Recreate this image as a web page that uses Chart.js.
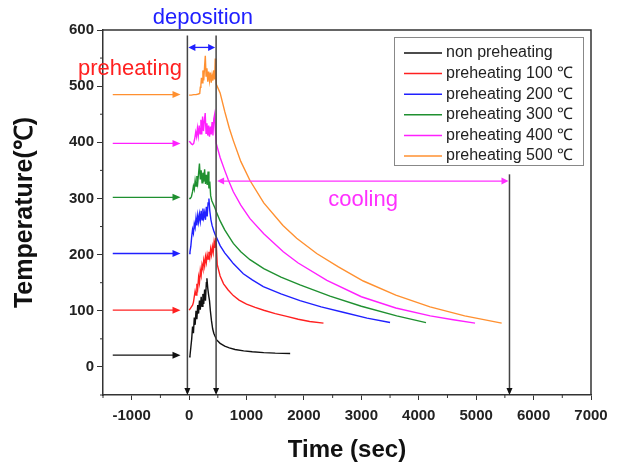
<!DOCTYPE html>
<html>
<head>
<meta charset="utf-8">
<script src="https://cdn.jsdelivr.net/npm/chart.js@4.4.1/dist/chart.umd.min.js"></script>
<style>
html,body{margin:0;padding:0;background:#fff;}
#wrap{width:619px;height:465px;position:relative;}
</style>
</head>
<body>
<div id="wrap"><canvas id="c" width="619" height="465"></canvas></div>
<script>
// ---------- data ----------
const seriesLabels = ['non preheating','preheating 100 \u2103','preheating 200 \u2103','preheating 300 \u2103','preheating 400 \u2103','preheating 500 \u2103'];

const timeNon = [0,15,30,45,60,75,90,105,120,135,150,165,180,195,210,225,240,255,270,285,300,310,325,340,355,370,390,410,430,450,480,540,620,700,800,950,1100,1300,1500,1760];
const tempNon = [18,20,35,50,72,60,88,75,100,85,110,95,118,102,125,108,130,112,138,118,150,158,140,128,118,100,82,68,60,55,48,42,37,34,31,28.5,27,25.5,24.5,24];

const time100 = [0,20,40,60,75,90,105,120,135,150,165,180,195,210,225,240,255,270,285,300,315,330,345,360,375,390,405,420,435,450,462,475,490,540,600,680,770,870,1000,1150,1300,1500,1700,1900,2100,2340];
const temp100 = [101,104,107,110,115,125,135,128,148,140,160,150,172,163,182,175,190,180,196,186,200,192,205,195,210,200,214,204,222,212,230,215,182,162,148,137,127,119,112,106,101,95,90,85,81,78];

const time200 = [0,15,30,45,60,75,90,105,120,135,150,165,180,195,210,225,240,255,270,285,300,315,330,345,360,380,400,430,460,480,540,620,700,770,944,1100,1292,1600,1931,2300,2700,3100,3500];
const temp200 = [202,205,215,232,245,238,255,248,265,252,270,258,272,260,278,262,282,266,275,262,285,268,292,300,278,262,252,242,234,230,216,203,193,184,166,155,143,130,118,107,97,87,79];

const time300 = [0,20,40,60,75,90,105,120,135,150,165,180,195,210,225,240,255,270,285,300,315,330,345,360,375,395,420,450,475,540,620,700,770,900,1060,1300,1600,1931,2454,3000,3616,4126];
const temp300 = [300,300,303,312,322,316,332,322,340,328,345,362,334,350,328,346,330,352,326,342,324,348,318,330,305,296,290,283,276,260,244,231,220,205,191,175,160,146,126,108,91,79];

const time400 = [0,20,40,60,80,100,115,130,145,160,175,190,205,220,235,250,265,280,295,310,325,340,355,370,385,400,415,430,445,458,472,540,620,683,770,900,1060,1300,1640,1900,2400,3000,3600,4200,4600,4980];
const temp400 = [402,400,397,396,398,408,418,410,425,412,430,415,440,414,446,420,438,452,416,434,412,430,410,428,414,436,412,442,450,420,398,373,350,333,312,288,264,237,205,185,154,125,105,91,84,78];

const time500 = [0,40,80,120,160,185,195,205,215,225,240,255,270,282,295,310,325,340,355,370,385,400,415,430,445,455,465,475,540,620,700,770,900,1060,1300,1635,1873,2222,2600,3034,3600,4196,4800,5444];
const temp500 = [484,484,485,485,486,487,498,502,515,506,528,510,536,554,518,532,508,526,510,524,506,520,510,528,512,549,515,503,488,455,425,403,366,332,292,252,229,202,178,153,128,107,91,78];

// preheating arrow levels, deposition window, cooling end
const preheatLevels = [21, 101, 202, 302, 398, 485];
const depositionStart = -30, depositionEnd = 470, coolingEnd = 5580;
const xTicks = [-1000,0,1000,2000,3000,4000,5000,6000,7000];
const yTicks = [0,100,200,300,400,500,600];

// ---------- styles ----------
const colors = ['#111111','#ff2020','#2020ff','#1f9030','#ff20ff','#ff9030'];
const timeArrays = [timeNon,time100,time200,time300,time400,time500];
const tempArrays = [tempNon,temp100,temp200,temp300,temp400,temp500];

const tickFont = {family:"'Liberation Sans', Arial, sans-serif", size:15, weight:'bold'};

const datasets = seriesLabels.map((lab,i)=>({
  label: lab,
  data: timeArrays[i].map((t,k)=>({x:t,y:tempArrays[i][k]})),
  borderColor: colors[i],
  backgroundColor: colors[i],
  borderWidth: 1.4,
  pointRadius: 0,
  tension: 0,
  fill: false
}));

function head(ctx, x, y, ang, color, len, hw){
  len = len||8; hw = hw||3.5;
  ctx.save();
  ctx.translate(x,y); ctx.rotate(ang);
  ctx.fillStyle=color;
  ctx.beginPath(); ctx.moveTo(0,0); ctx.lineTo(-len,-hw); ctx.lineTo(-len,hw); ctx.closePath(); ctx.fill();
  ctx.restore();
}

const decor = {
  id:'decor',
  afterDatasetsDraw(chart){
    const {ctx, chartArea:a, scales:{x,y}} = chart;
    ctx.save();
    // frame top & right
    ctx.strokeStyle='#333'; ctx.lineWidth=1.5;
    ctx.beginPath(); ctx.moveTo(a.left,a.top); ctx.lineTo(a.right,a.top); ctx.lineTo(a.right,a.bottom); ctx.stroke();
    // minor ticks
    ctx.lineWidth=1; ctx.strokeStyle='#333';
    for(let v=-1500; v<=7000; v+=1000){ const px=x.getPixelForValue(v); ctx.beginPath(); ctx.moveTo(px,a.bottom); ctx.lineTo(px,a.bottom+3); ctx.stroke(); }
    for(let v=-50; v<=600; v+=100){ const py=y.getPixelForValue(v); ctx.beginPath(); ctx.moveTo(a.left,py); ctx.lineTo(a.left-3,py); ctx.stroke(); }

    // vertical markers
    ctx.strokeStyle='#444'; ctx.lineWidth=1.5;
    const vlines=[[depositionStart,590],[depositionEnd,590],[coolingEnd,343]];
    vlines.forEach(([t,top])=>{
      const px=x.getPixelForValue(t);
      ctx.beginPath(); ctx.moveTo(px,y.getPixelForValue(top)); ctx.lineTo(px,a.bottom-2); ctx.stroke();
      head(ctx,px,a.bottom,Math.PI/2,'#111',7,3);
    });
    // deposition double arrow
    const dy=y.getPixelForValue(569), d1=x.getPixelForValue(depositionStart), d2=x.getPixelForValue(depositionEnd);
    ctx.strokeStyle='#2020ff'; ctx.lineWidth=1.3;
    ctx.beginPath(); ctx.moveTo(d1+4,dy); ctx.lineTo(d2-4,dy); ctx.stroke();
    head(ctx,d1+1,dy,Math.PI,'#2020ff',7,3.5); head(ctx,d2-1,dy,0,'#2020ff',7,3.5);
    // cooling double arrow
    const cy=y.getPixelForValue(331), c2=x.getPixelForValue(coolingEnd);
    ctx.strokeStyle='#ff30ff';
    ctx.beginPath(); ctx.moveTo(d2+4,cy); ctx.lineTo(c2-4,cy); ctx.stroke();
    head(ctx,d2+1,cy,Math.PI,'#ff30ff',7,3.5); head(ctx,c2-1,cy,0,'#ff30ff',7,3.5);
    // preheating arrows
    preheatLevels.forEach((v,i)=>{
      const py=y.getPixelForValue(v), p1=x.getPixelForValue(-1330), p2=x.getPixelForValue(-150);
      ctx.strokeStyle=colors[i]; ctx.lineWidth=1.3;
      ctx.beginPath(); ctx.moveTo(p1,py); ctx.lineTo(p2-5,py); ctx.stroke();
      head(ctx,p2,py,0,colors[i],8,3.5);
    });
    // texts
    ctx.font="22px 'Liberation Sans', Arial, sans-serif"; ctx.textAlign='center'; ctx.textBaseline='alphabetic';
    ctx.fillStyle='#2020ff'; ctx.fillText('deposition', x.getPixelForValue(240), y.getPixelForValue(610));
    ctx.fillStyle='#ff2020'; ctx.fillText('preheating', x.getPixelForValue(-1030), y.getPixelForValue(520));
    ctx.fillStyle='#ff30ff'; ctx.fillText('cooling', x.getPixelForValue(3029), y.getPixelForValue(287));

    // legend box
    const lx=394, ly=37, lw=189, lh=128;
    ctx.fillStyle='#fff'; ctx.fillRect(lx,ly,lw,lh);
    ctx.strokeStyle='#888'; ctx.lineWidth=1; ctx.strokeRect(lx+0.5,ly+0.5,lw,lh);
    ctx.font="16px 'Liberation Sans', Arial, sans-serif"; ctx.textAlign='left'; ctx.textBaseline='middle';
    chart.data.datasets.forEach((ds,i)=>{
      const ry = 53 + i*20.6;
      ctx.strokeStyle=ds.borderColor; ctx.lineWidth=1.5;
      ctx.beginPath(); ctx.moveTo(404,ry); ctx.lineTo(442,ry); ctx.stroke();
      ctx.fillStyle='#222'; ctx.fillText(ds.label, 446, ry);
    });
    ctx.restore();
  }
};

new Chart(document.getElementById('c'), {
  type:'line',
  data:{datasets},
  options:{
    responsive:false,
    animation:false,
    parsing:true,
    layout:{padding:{top:30,right:28,left:0,bottom:0}},
    plugins:{legend:{display:false},tooltip:{enabled:false}},
    scales:{
      x:{
        type:'linear', min:-1500, max:7000,
        afterBuildTicks:(s)=>{ s.ticks = xTicks.map(v=>({value:v})); },
        afterFit:(s)=>{ s.height = 70; },
        ticks:{font:tickFont, color:'#222', padding:7, maxRotation:0, callback:(v)=>String(v)},
        grid:{display:true, drawOnChartArea:false, drawTicks:true, tickLength:5, color:'#333', lineWidth:1},
        border:{display:true, color:'#333', width:1.5},
        title:{display:true, text:'Time (sec)', font:{family:"'Liberation Sans', Arial, sans-serif", size:24, weight:'bold'}, color:'#111', padding:{top:0,bottom:0}}
      },
      y:{
        type:'linear', min:-50, max:600,
        afterBuildTicks:(s)=>{ s.ticks = yTicks.map(v=>({value:v})); },
        afterFit:(s)=>{ s.width = 103; },
        ticks:{font:tickFont, color:'#222', padding:3, callback:(v)=>String(v)},
        grid:{display:true, drawOnChartArea:false, drawTicks:true, tickLength:6, color:'#333', lineWidth:1},
        border:{display:true, color:'#333', width:1.5},
        title:{display:true, text:'Temperature(\u2103)', font:{family:"'Liberation Sans', Arial, sans-serif", size:25, weight:'bold'}, color:'#111', padding:{top:10,bottom:0}}
      }
    }
  },
  plugins:[decor]
});
</script>
</body>
</html>
